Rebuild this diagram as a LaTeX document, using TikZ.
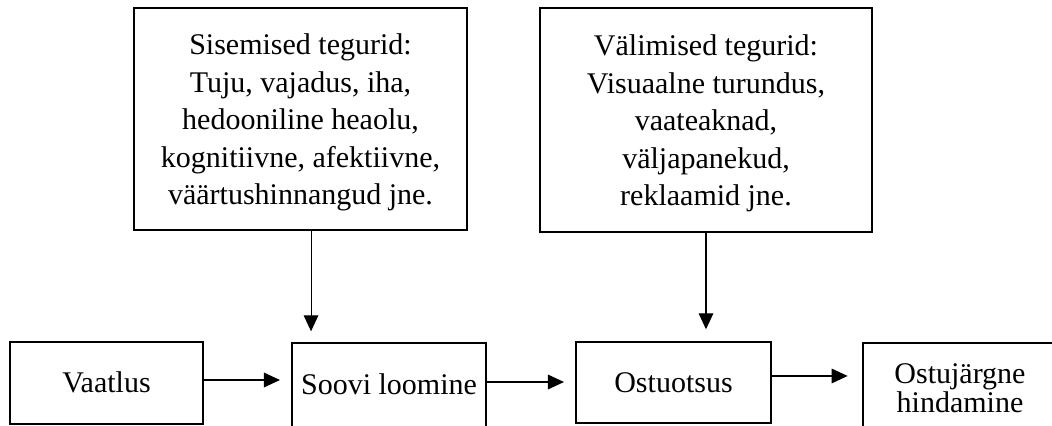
\documentclass[tikz,border=0pt]{standalone}
\usepackage{fontspec}
\setmainfont{Liberation Serif}
\usetikzlibrary{arrows.meta,calc}
\begin{document}
\begin{tikzpicture}[x=0.75pt,y=-0.75pt,
  box/.style={draw,line width=1.1pt,inner sep=0pt,align=center,
    font=\fontsize{22.5}{28.1}\selectfont},
  topbox/.style={box},
  stepbox/.style={box,text height=14.8pt,text depth=0pt},
  twobox/.style={box,font=\fontsize{22.5}{19.5}\selectfont},
  arr/.style={line width=0.8pt,-{Triangle[length=12pt,width=11pt]}}]
\useasboundingbox (0,0) rectangle (1052,425);
\clip (0,0) rectangle (1052,425);
% top boxes
\node[topbox,minimum width=249.75pt,minimum height=166.5pt] (a) at (300.5,119)
  {\rule{0pt}{21pt}Sisemised tegurid:\\Tuju, vajadus, iha,\\hedooniline heaolu,\\kognitiivne, afektiivne,\\väärtushinnangud jne.};
\node[topbox,minimum width=249pt,minimum height=168pt] (b) at (706,120)
  {\rule{0pt}{21pt}Välimised tegurid:\\Visuaalne turundus,\\vaateaknad,\\väljapanekud,\\reklaamid jne.};
% bottom boxes
\node[stepbox,minimum width=144.75pt,minimum height=61.5pt] (v) at (106.5,383) {Vaatlus};
\node[stepbox,minimum width=145.5pt,minimum height=63pt] (s) at (389,385) {Soovi loomine};
\node[stepbox,minimum width=146.25pt,minimum height=60.75pt] (o) at (673.5,382.5) {Ostuotsus};
\node[twobox,minimum width=145.5pt,minimum height=67.5pt] (h) at (960,388) {Ostujärgne\\hindamine};
% horizontal arrows
\draw[arr,shorten >=8.5pt] ([yshift=2.25pt]v.east) -- ([yshift=2.25pt]v.east -| s.west);
\draw[arr,shorten >=8.5pt] ([yshift=2.25pt]s.east) -- ([yshift=2.25pt]s.east -| o.west);
\draw[arr,shorten >=11pt] ([yshift=4.9pt]o.east) -- ([yshift=4.9pt]o.east -| h.west);
% vertical arrows
\draw[arr,shorten >=8.25pt] ([xshift=7.9pt]a.south) -- ([xshift=7.9pt]a.south |- s.north);
\draw[arr,shorten >=9pt] (b.south) -- (b.south |- o.north);
\end{tikzpicture}
\end{document}
